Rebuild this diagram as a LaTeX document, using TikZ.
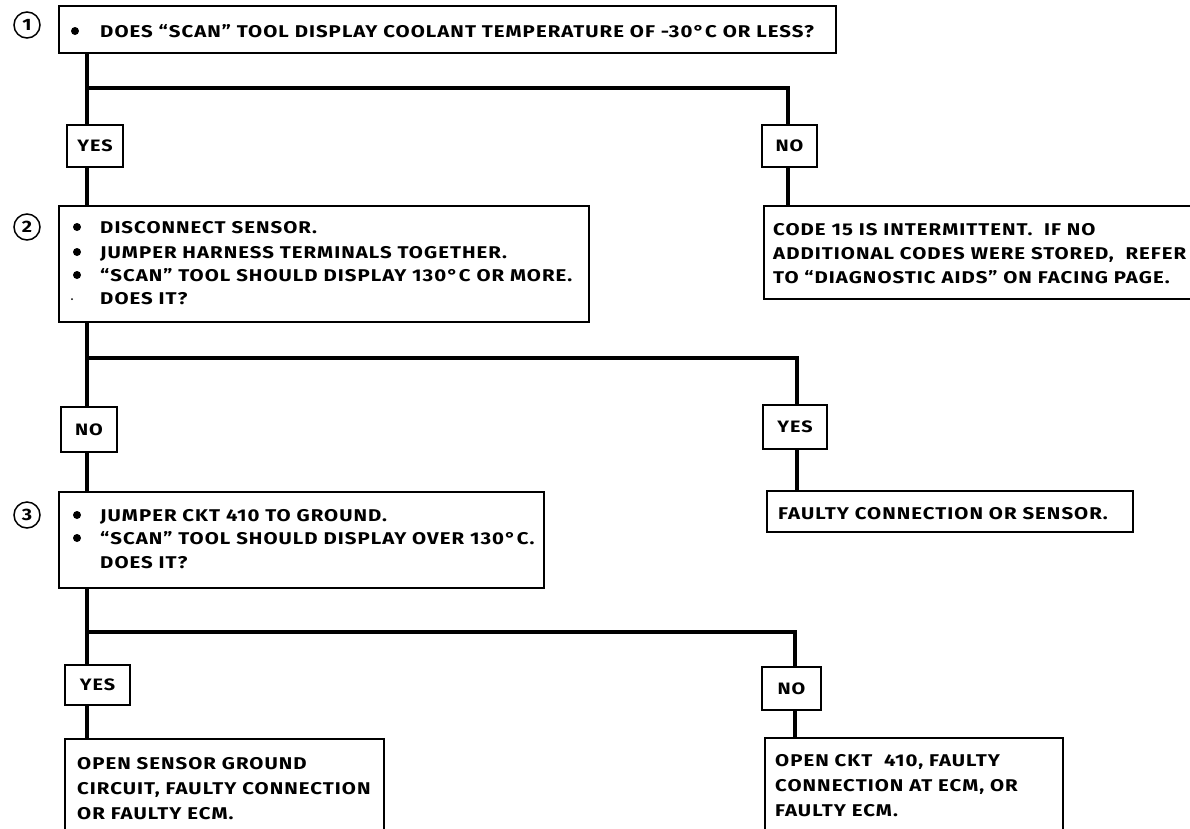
\documentclass[tikz,border=0pt]{standalone}
\usepackage{fontspec}
\newfontfamily\chartfont{Fira Sans}[UprightFont=* Bold, FakeStretch=1.2, LetterSpace=6]
\begin{document}
\begin{tikzpicture}[x=1pt,y=-1pt,
  box/.style={draw, line width=1.8pt, inner sep=0pt, anchor=north west},
  lbl/.style={draw, line width=1.8pt, inner sep=0pt, fill=white,
              font=\chartfont\fontsize{16.5}{16.5}\selectfont},
  num/.style={circle, draw, line width=1.5pt, minimum size=26pt, inner sep=0pt,
              font=\chartfont\fontsize{16.5}{16.5}\selectfont},
  txt/.style={anchor=base west, inner sep=0pt,
              font=\chartfont\fontsize{17}{17}\selectfont},
  dotb/.style={circle, fill, inner sep=0pt, minimum size=8pt},
  conn/.style={line width=4.6pt}]
\useasboundingbox (0,0) rectangle (1190,828);

% ---- step 1 ----
\node[num] (c1) at (27,25) {1};
\node[box, minimum width=777pt, minimum height=47pt] (q1) at (58,5) {};
\node[dotb] (q1d) at (75,31) {};
\node[txt] (q1a) at (100,37) {DOES “SCAN” TOOL DISPLAY COOLANT TEMPERATURE OF -30°C OR LESS?};

\coordinate (j1) at (87,88);
\coordinate (k1) at (788,88);
\node[lbl, minimum width=56pt, minimum height=42pt] (y1) at (95,146) {YES};
\node[lbl, minimum width=55pt, minimum height=42pt] (n1) at (789.5,146) {NO};

% ---- step 2 ----
\node[num] (c2) at (27,227) {2};
\node[box, minimum width=530pt, minimum height=116pt] (q2) at (58,205) {};
\node[dotb] (q2d1) at (77,227) {};
\node[dotb] (q2d2) at (77,252) {};
\node[dotb] (q2d3) at (77,275) {};
\node[circle, fill, inner sep=0pt, minimum size=2pt] (q2d4) at (72,299) {};
\node[txt] (q2a) at (100,233) {DISCONNECT SENSOR.};
\node[txt] (q2b) at (100,258) {JUMPER HARNESS TERMINALS TOGETHER.};
\node[txt] (q2c) at (100,281) {“SCAN” TOOL SHOULD DISPLAY 130°C OR MORE.};
\node[txt] (q2e) at (100,304) {DOES IT?};

\node[box, minimum width=440pt, minimum height=93pt] (c15) at (763,205) {};
\node[txt] (c15a) at (773,235) {CODE 15 IS INTERMITTENT.\ \ IF NO};
\node[txt] (c15b) at (773,259) {ADDITIONAL CODES WERE STORED,\ \ REFER};
\node[txt] (c15c) at (773,283) {TO “DIAGNOSTIC AIDS” ON FACING PAGE.};

\coordinate (j2) at (87,358);
\coordinate (k2) at (797,358);
\node[lbl, minimum width=56pt, minimum height=45pt] (n2) at (89,429.5) {NO};
\node[lbl, minimum width=64pt, minimum height=44pt] (y2) at (795,427) {YES};

% ---- step 3 ----
\node[num] (c3) at (27,515) {3};
\node[box, minimum width=485pt, minimum height=96pt] (q3) at (58,491) {};
\node[dotb] (q3d1) at (77,515) {};
\node[dotb] (q3d2) at (77,538) {};
\node[txt] (q3a) at (100,521) {JUMPER CKT 410 TO GROUND.};
\node[txt] (q3b) at (100,544) {“SCAN” TOOL SHOULD DISPLAY OVER 130°C.};
\node[txt] (q3c) at (100,568) {DOES IT?};

\node[box, minimum width=366pt, minimum height=41pt] (fc) at (766,490) {};
\node[txt] (fca) at (778,519) {FAULTY CONNECTION OR SENSOR.};

\coordinate (j3) at (87,632);
\coordinate (k3) at (795,632);
\node[lbl, minimum width=65pt, minimum height=40pt] (y3) at (97.5,685) {YES};
\node[lbl, minimum width=59pt, minimum height=43pt] (n3) at (791.5,688.5) {NO};

% ---- results ----
\node[box, minimum width=319pt, minimum height=110pt] (r1) at (64,738) {};
\node[txt] (r1a) at (77,769) {OPEN SENSOR GROUND};
\node[txt] (r1b) at (77,794) {CIRCUIT, FAULTY CONNECTION};
\node[txt] (r1c) at (77,819) {OR FAULTY ECM.};

\node[box, minimum width=298pt, minimum height=110pt] (r2) at (764,737) {};
\node[txt] (r2a) at (775,766) {OPEN CKT\ \ 410, FAULTY};
\node[txt] (r2b) at (775,791) {CONNECTION AT ECM, OR};
\node[txt] (r2c) at (775,816) {FAULTY ECM.};

% ---- flow lines ----
\draw[conn] (q1.south -| j1) -- (j1);
\draw[conn] (y1.north -| j1) -- (j1) -- (k1) -- (n1.north -| k1);
\draw[conn] (y1.south -| j1) -- (q2.north -| j1);
\draw[conn] (n1.south -| k1) -- (c15.north -| k1);

\draw[conn] (q2.south -| j2) -- (j2);
\draw[conn] (n2.north -| j2) -- (j2) -- (k2) -- (y2.north -| k2);
\draw[conn] (n2.south -| j2) -- (q3.north -| j2);
\draw[conn] (y2.south -| k2) -- (fc.north -| k2);

\draw[conn] (q3.south -| j3) -- (j3);
\draw[conn] (y3.north -| j3) -- (j3) -- (k3) -- (n3.north -| k3);
\draw[conn] (y3.south -| j3) -- (r1.north -| j3);
\draw[conn] (n3.south -| k3) -- (r2.north -| k3);
\end{tikzpicture}
\end{document}
